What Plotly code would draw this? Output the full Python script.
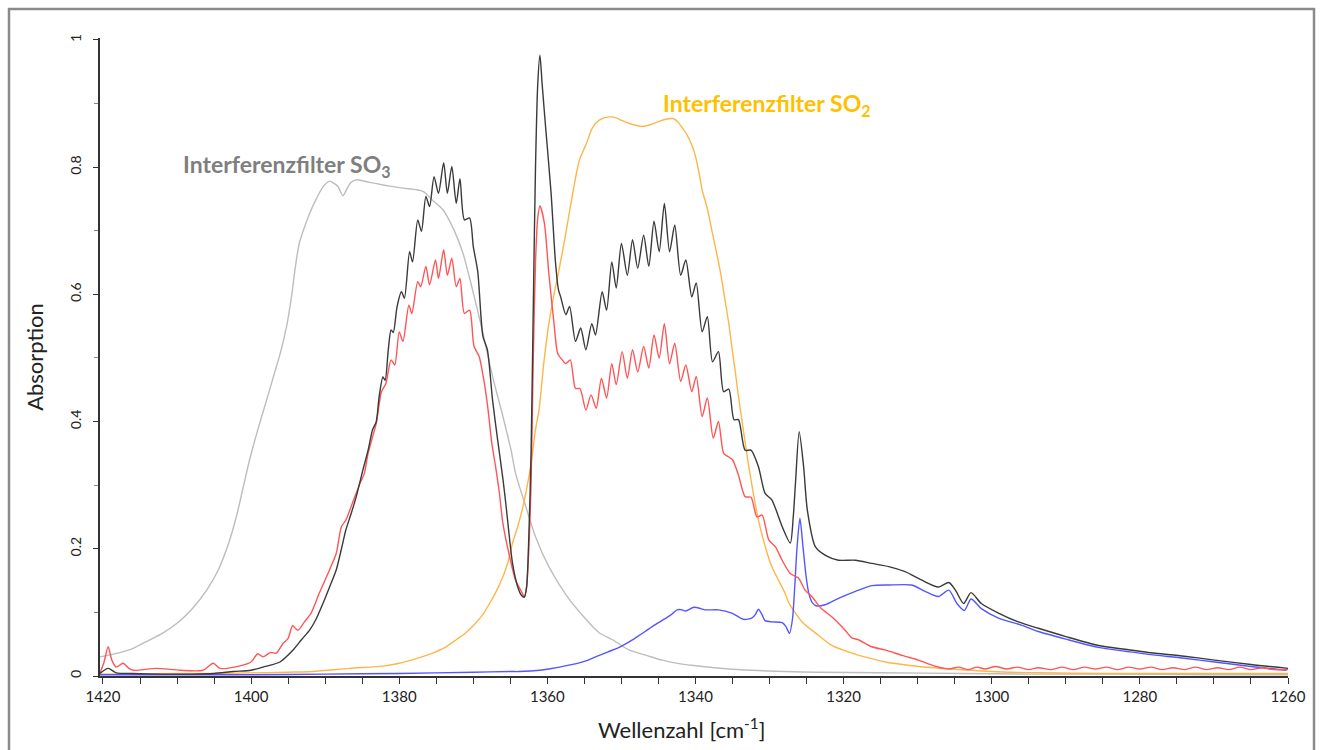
import plotly.graph_objects as go

# ---------------- data ----------------
black_w = [1420.4, 1419.3, 1418.2, 1416, 1412, 1408, 1405, 1402.4, 1400.0, 1398.4, 1396.1, 1394.4, 1393.2,
           1392.1, 1391.2, 1390.3, 1389.4, 1388.5, 1387.8, 1387.2, 1386.5, 1385.8, 1384.9, 1384.2, 1383.6,
           1383.1, 1382.7, 1382.2, 1381.9, 1381.5, 1381.1, 1380.8, 1380.3, 1379.7, 1379.3, 1378.6, 1378.2,
           1377.5, 1377.0, 1376.4, 1375.9, 1375.3, 1374.7, 1374.0, 1373.5, 1372.9, 1372.3, 1371.8, 1371.2,
           1370.5, 1370.0, 1369.4, 1368.7, 1368.1, 1367.4, 1366.7, 1366.0, 1365.6, 1364.7, 1364.0, 1363.5,
           1363.1, 1362.8, 1362.5, 1362.2, 1361.9, 1361.6, 1361.3, 1361.0, 1360.7, 1360.2, 1359.5, 1358.9,
           1358.5, 1358.2, 1357.5, 1357.0, 1356.2, 1355.5, 1354.8, 1354.0, 1353.5, 1352.6, 1352.0, 1351.3,
           1350.7, 1350.0, 1349.2, 1348.5, 1347.8, 1347.0, 1346.3, 1345.6, 1344.9, 1344.2, 1343.5, 1342.8,
           1342.0, 1341.3, 1340.5, 1339.9, 1339.1, 1338.4, 1337.7, 1336.9, 1336.2, 1335.5, 1334.8, 1334.2,
           1333.3, 1332.5, 1331.5, 1330.6, 1329.7, 1328.3, 1327.2, 1326.8, 1326.5, 1326.0, 1325.4, 1324.9,
           1323.8, 1322.2, 1320.7, 1318.4, 1316.2, 1313.9, 1311.7, 1309.5, 1307.2, 1305.8, 1304.9, 1303.8,
           1302.8, 1301.4, 1299.1, 1296.4, 1293.7, 1290, 1285.6, 1282, 1278.9, 1274, 1269.9, 1265, 1260]
black_v = [0.004, 0.012, 0.005, 0.004, 0.003, 0.003, 0.004, 0.007, 0.009, 0.014, 0.022, 0.040, 0.057,
           0.072, 0.090, 0.114, 0.140, 0.167, 0.200, 0.230, 0.255, 0.282, 0.324, 0.355, 0.387,
           0.400, 0.440, 0.470, 0.465, 0.510, 0.544, 0.540, 0.580, 0.604, 0.594, 0.667, 0.651,
           0.717, 0.699, 0.754, 0.738, 0.785, 0.759, 0.807, 0.759, 0.801, 0.743, 0.782, 0.717,
           0.720, 0.675, 0.636, 0.534, 0.513, 0.434, 0.370, 0.310, 0.270, 0.177, 0.140, 0.127,
           0.124, 0.140, 0.220, 0.350, 0.580, 0.800, 0.930, 0.976, 0.930, 0.858, 0.760, 0.650,
           0.607, 0.596, 0.568, 0.581, 0.526, 0.547, 0.513, 0.554, 0.536, 0.604, 0.575, 0.651,
           0.610, 0.680, 0.630, 0.686, 0.641, 0.693, 0.644, 0.715, 0.667, 0.743, 0.667, 0.709,
           0.630, 0.654, 0.596, 0.618, 0.541, 0.565, 0.494, 0.510, 0.447, 0.451, 0.403, 0.403,
           0.355, 0.355, 0.329, 0.287, 0.277, 0.235, 0.209, 0.250, 0.303, 0.384, 0.329, 0.261,
           0.203, 0.188, 0.182, 0.182, 0.177, 0.172, 0.164, 0.151, 0.140, 0.147, 0.135, 0.114,
           0.131, 0.114, 0.099, 0.085, 0.075, 0.062, 0.048, 0.042, 0.037, 0.031, 0.025, 0.018, 0.012]

red_w = [1420.4, 1419.9, 1419.3, 1418.8, 1418.2, 1417.3, 1416.5, 1415.9, 1412.8, 1409.6, 1406.5, 1405.1,
         1404.2, 1401.5, 1400.0, 1399.1, 1398.4, 1397.4, 1396.6, 1395.7, 1395.0, 1394.4, 1393.7, 1392.8,
         1391.9, 1390.8, 1389.4, 1388.5, 1387.8, 1387.2, 1386.5, 1385.4, 1384.7, 1384.2, 1383.6, 1383.1,
         1382.4, 1381.8, 1381.1, 1380.6, 1380.0, 1379.5, 1378.7, 1378.3, 1377.5, 1377.1, 1376.4, 1375.9,
         1375.1, 1374.7, 1374.0, 1373.5, 1372.9, 1372.3, 1371.8, 1371.2, 1370.5, 1369.9, 1369.2, 1368.5,
         1368.0, 1367.5, 1367.0, 1366.5, 1366.0, 1365.1, 1364.3, 1363.6, 1363.1, 1362.8, 1362.5, 1362.2,
         1361.9, 1361.6, 1361.3, 1361.0, 1360.4, 1359.8, 1359.1, 1358.6, 1358.0, 1357.5, 1356.9, 1356.2,
         1355.6, 1354.8, 1354.1, 1353.4, 1352.7, 1352.0, 1351.3, 1350.7, 1349.9, 1349.2, 1348.5, 1347.8,
         1347.0, 1346.3, 1345.6, 1344.9, 1344.2, 1343.5, 1342.8, 1342.0, 1341.3, 1340.5, 1339.9, 1339.1,
         1338.4, 1337.6, 1336.9, 1336.2, 1335.6, 1335.0, 1334.2, 1333.3, 1332.5, 1331.7, 1331.0, 1330.1,
         1329.2, 1328.3, 1327.2, 1326.1, 1325.2, 1324.3, 1323.0, 1321.6, 1319.8, 1318.9, 1318.0, 1316.2,
         1314.4, 1312.0, 1309.9, 1307.8, 1305.8, 1304.5, 1303.2, 1302.0, 1300.9, 1299.5, 1298.0, 1296.5,
         1295.0, 1293.7, 1292.0, 1290.5, 1289.0, 1287.5, 1286.0, 1284.5, 1283.0, 1281.5, 1280.0, 1278.5,
         1277.0, 1275.5, 1274.0, 1272.5, 1271.0, 1269.5, 1268.0, 1266.5, 1265.0, 1263.5, 1262.0, 1260.0]
red_v = [0.005, 0.020, 0.046, 0.025, 0.014, 0.020, 0.012, 0.009, 0.012, 0.009, 0.009, 0.020,
         0.012, 0.016, 0.022, 0.035, 0.030, 0.037, 0.036, 0.051, 0.059, 0.079, 0.072, 0.085,
         0.099, 0.130, 0.167, 0.193, 0.235, 0.245, 0.266, 0.300, 0.319, 0.350, 0.376, 0.397,
         0.447, 0.460, 0.497, 0.489, 0.541, 0.526, 0.583, 0.570, 0.620, 0.612, 0.644, 0.615,
         0.654, 0.625, 0.670, 0.630, 0.657, 0.612, 0.625, 0.570, 0.575, 0.518, 0.502, 0.460,
         0.418, 0.366, 0.330, 0.290, 0.240, 0.188, 0.151, 0.135, 0.125, 0.140, 0.200, 0.300,
         0.500, 0.650, 0.720, 0.739, 0.712, 0.633, 0.554, 0.507, 0.497, 0.491, 0.497, 0.452,
         0.452, 0.418, 0.442, 0.421, 0.468, 0.437, 0.491, 0.458, 0.510, 0.468, 0.513, 0.478,
         0.518, 0.484, 0.536, 0.500, 0.554, 0.491, 0.523, 0.463, 0.489, 0.447, 0.471, 0.408,
         0.437, 0.374, 0.400, 0.350, 0.345, 0.340, 0.316, 0.282, 0.281, 0.250, 0.253, 0.214,
         0.203, 0.182, 0.161, 0.154, 0.135, 0.125, 0.106, 0.093, 0.072, 0.060, 0.057, 0.046,
         0.041, 0.032, 0.025, 0.016, 0.011, 0.014, 0.010, 0.014, 0.011, 0.015, 0.011, 0.014,
         0.010, 0.013, 0.010, 0.014, 0.010, 0.014, 0.011, 0.014, 0.010, 0.014, 0.011, 0.014,
         0.010, 0.013, 0.010, 0.014, 0.010, 0.013, 0.010, 0.014, 0.010, 0.013, 0.010, 0.010]

gray_w = [1420.4, 1418, 1416, 1414, 1412, 1410, 1408, 1406, 1404.5, 1403, 1402, 1401, 1400.2, 1399.1,
          1398, 1397, 1396, 1395.2, 1394.5, 1394, 1393.5, 1392.8, 1392.1, 1391.2, 1390.3, 1389.4, 1388.9,
          1388.3, 1387.6, 1387.1, 1386.6, 1385.8, 1384, 1382.2, 1379.5, 1376.8, 1375.5, 1374.1, 1372.6,
          1371.4, 1370.1, 1368.7, 1367.4, 1366.0, 1364.9, 1364.3, 1362.9, 1361.6, 1359.8, 1357.5, 1355,
          1353, 1351.2, 1349.0, 1346.5, 1344.5, 1342, 1339.1, 1335.5, 1332.4, 1328, 1323.4, 1315, 1303.6,
          1295, 1285, 1270, 1260]
gray_v = [0.030, 0.036, 0.043, 0.055, 0.067, 0.083, 0.105, 0.135, 0.165, 0.210, 0.250, 0.300, 0.340, 0.387,
          0.430, 0.470, 0.510, 0.550, 0.600, 0.645, 0.680, 0.705, 0.727, 0.750, 0.769, 0.778, 0.775,
          0.770, 0.755, 0.765, 0.775, 0.780, 0.776, 0.772, 0.767, 0.762, 0.748, 0.733, 0.701,
          0.665, 0.607, 0.539, 0.471, 0.408, 0.355, 0.319, 0.266, 0.219, 0.172, 0.128, 0.092,
          0.068, 0.057, 0.041, 0.032, 0.025, 0.019, 0.015, 0.011, 0.009, 0.007, 0.006, 0.005, 0.004,
          0.003, 0.003, 0.002, 0.002]

orange_w = [1420.4, 1410, 1405, 1395, 1391.7, 1386.7, 1382, 1380, 1377.5, 1375.5, 1373.8, 1372.3, 1371,
            1369.7, 1368.7, 1367.8, 1366.9, 1366.0, 1365.3, 1364.7, 1364, 1363.3, 1362.7, 1362.2, 1361.6,
            1361.1, 1360.5, 1359.8, 1359.1, 1358.4, 1357.6, 1356.6, 1355.7, 1354.8, 1353.9, 1353.0, 1351.7,
            1350.6, 1349.9, 1348.5, 1347.2, 1346, 1344.9, 1343.6, 1342.9, 1342.3, 1341.8, 1341.1, 1340.4,
            1340.0, 1339.5, 1339.1, 1338.4, 1337.8, 1337.2, 1336.6, 1336.0, 1335.5, 1335.0, 1334.6, 1334.2,
            1333.7, 1332.8, 1331.5, 1330.5, 1329.7, 1327.9, 1327.4, 1325.6, 1323.4, 1321.6, 1318.9, 1316.5,
            1314.4, 1312, 1309.9, 1305.4, 1300, 1293.7, 1285, 1270, 1260]
orange_v = [0.003, 0.004, 0.004, 0.006, 0.007, 0.012, 0.016, 0.020, 0.028, 0.036, 0.045, 0.057, 0.068,
            0.083, 0.097, 0.114, 0.133, 0.156, 0.180, 0.209, 0.235, 0.266, 0.300, 0.334, 0.387,
            0.420, 0.490, 0.554, 0.600, 0.640, 0.690, 0.757, 0.810, 0.835, 0.862, 0.874, 0.879,
            0.877, 0.873, 0.867, 0.864, 0.867, 0.872, 0.876, 0.876, 0.870, 0.862, 0.850, 0.832,
            0.817, 0.790, 0.764, 0.735, 0.701, 0.668, 0.633, 0.590, 0.554, 0.510, 0.476, 0.440,
            0.400, 0.329, 0.245, 0.200, 0.172, 0.130, 0.115, 0.085, 0.064, 0.048, 0.036, 0.028,
            0.022, 0.018, 0.015, 0.011, 0.007, 0.005, 0.004, 0.004, 0.004]

blue_w = [1420.4, 1410, 1400, 1390, 1380, 1370, 1365, 1363.8, 1361, 1359.8, 1357.1, 1355, 1353.5, 1351.8,
          1350.3, 1349.2, 1348.1, 1346.8, 1345.8, 1344.0, 1343.2, 1342.5, 1341.8, 1341.4, 1340.2, 1339.3,
          1338.7, 1336.9, 1335.1, 1333.5, 1332.4, 1331.9, 1331.5, 1331.0, 1330.6, 1329.7, 1328.3, 1327.8,
          1327.3, 1326.9, 1326.6, 1326.3, 1325.9, 1325.5, 1325.1, 1324.7, 1324.2, 1323.6, 1322.5, 1320.7,
          1318.4, 1316.2, 1313.9, 1310.8, 1309.0, 1307.2, 1305.8, 1304.7, 1303.7, 1302.8, 1301.4, 1299.1,
          1296.0, 1293.7, 1290, 1285.6, 1282, 1278.9, 1274, 1269.9, 1265, 1260.2]
blue_v = [0.002, 0.002, 0.002, 0.003, 0.004, 0.006, 0.007, 0.007, 0.009, 0.011, 0.017, 0.023, 0.030, 0.038,
          0.045, 0.052, 0.060, 0.070, 0.078, 0.091, 0.097, 0.104, 0.104, 0.102, 0.108, 0.106,
          0.104, 0.104, 0.099, 0.089, 0.091, 0.097, 0.105, 0.096, 0.087, 0.085, 0.084, 0.078,
          0.067, 0.090, 0.140, 0.200, 0.248, 0.205, 0.160, 0.130, 0.115, 0.110, 0.112, 0.122,
          0.133, 0.142, 0.143, 0.143, 0.133, 0.125, 0.135, 0.114, 0.103, 0.121, 0.106, 0.091,
          0.080, 0.070, 0.058, 0.045, 0.039, 0.034, 0.028, 0.022, 0.015, 0.009]

x_tickvals = [1420, 1400, 1380, 1360, 1340, 1320, 1300, 1280, 1260]
y_tickvals = [0, 0.2, 0.4, 0.6, 0.8, 1]
y_ticktext = ["0", "0.2", "0.4", "0.6", "0.8", "1"]

label_so3 = "<b>Interferenzfilter SO<sub>3</sub></b>"
label_so2 = "<b>Interferenzfilter SO<sub>2</sub></b>"
x_title = "Wellenzahl [cm<sup>-1</sup>]"
y_title = "Absorption"

# ---------------- figure ----------------
FONT = "Lato, 'Open Sans', sans-serif"
fig = go.Figure()

series = [
    (gray_w, gray_v, "#BDBDBD", "SO3-Filter"),
    (orange_w, orange_v, "#FDB64A", "SO2-Filter"),
    (blue_w, blue_v, "#5555FF", "blau"),
    (red_w, red_v, "#FF5555", "rot"),
    (black_w, black_v, "#3A3A3A", "schwarz"),
]
for w, v, c, n in series:
    fig.add_trace(go.Scatter(x=w, y=v, mode="lines", name=n,
                             line=dict(color=c, width=1.4, shape="spline", smoothing=0.7),
                             hoverinfo="x+y"))

fig.add_annotation(x=1409.4, y=0.803, xref="x", yref="y", text=label_so3, showarrow=False,
                   xanchor="left", yanchor="middle",
                   font=dict(family=FONT, size=23, color="#7F7F7F"))
fig.add_annotation(x=1344.6, y=0.899, xref="x", yref="y", text=label_so2, showarrow=False,
                   xanchor="left", yanchor="middle",
                   font=dict(family=FONT, size=23, color="#FFC000"))

# layout geometry
L, R_, T, B = 100, 35, 38, 74
PW = 1323 - L - R_
PH = 750 - T - B
def px2paper_x(px):
    return (px - L) / PW
def py2paper_y(py):
    return (750 - B - py) / PH

# x-axis title (slightly left of the plot centre, as in the reference)
fig.add_annotation(x=px2paper_x(681), y=py2paper_y(728), xref="paper", yref="paper",
                   text=x_title, showarrow=False, xanchor="center", yanchor="middle",
                   font=dict(family=FONT, size=22, color="#222"))

# outer frame
fig.add_shape(type="rect", xref="paper", yref="paper",
              x0=px2paper_x(9), x1=px2paper_x(1314), y0=py2paper_y(765), y1=py2paper_y(9),
              line=dict(color="#8A8A8A", width=2.5), fillcolor="rgba(0,0,0,0)", layer="below")

fig.update_layout(
    width=1323, height=750,
    margin=dict(l=L, r=R_, t=T, b=B, pad=0),
    paper_bgcolor="white", plot_bgcolor="white",
    showlegend=False,
    font=dict(family=FONT, color="#222"),
    xaxis=dict(
        range=[1420.4, 1260], autorange=False,
        tickmode="array", tickvals=x_tickvals, ticktext=[str(t) for t in x_tickvals],
        ticks="outside", ticklen=6, tickwidth=1, tickcolor="#333",
        minor=dict(dtick=5, tick0=1420, ticks="outside", ticklen=6, tickcolor="#333", tickwidth=1,
                   showgrid=False),
        showline=True, linecolor="#333", linewidth=2,
        showgrid=False, zeroline=False,
        tickfont=dict(family=FONT, size=15, color="#222"),
    ),
    yaxis=dict(
        range=[0, 1.003], autorange=False,
        tickmode="array", tickvals=y_tickvals, ticktext=y_ticktext,
        tickangle=-90,
        ticks="outside", ticklen=5, tickwidth=1, tickcolor="#333",
        minor=dict(dtick=0.1, tick0=0, ticks="outside", ticklen=4, tickcolor="#888", tickwidth=1,
                   showgrid=False),
        ticklabelstandoff=6,
        showline=True, linecolor="#333", linewidth=2,
        showgrid=False, zeroline=False,
        tickfont=dict(family=FONT, size=14, color="#222"),
        title=dict(text=y_title, standoff=18,
                   font=dict(family=FONT, size=22, color="#222")),
    ),
)

fig.write_html("out.html")
